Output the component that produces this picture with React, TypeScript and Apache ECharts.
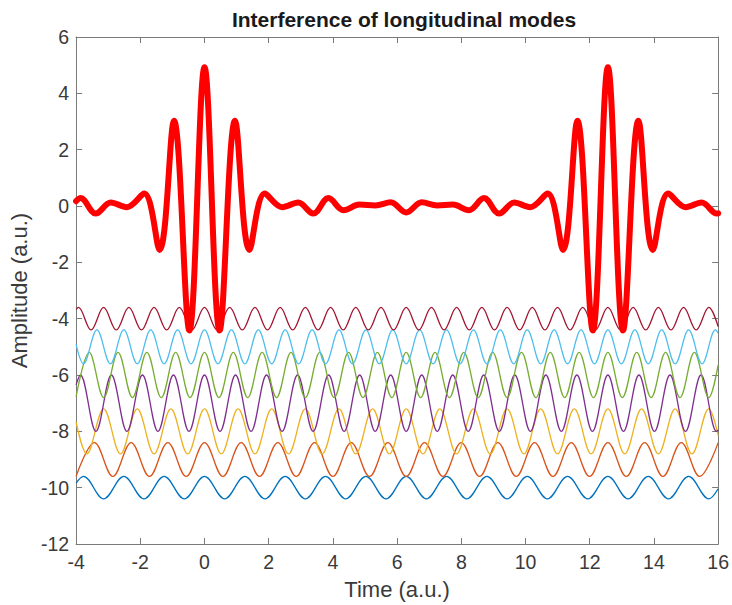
import React, { useEffect, useRef } from "react";
import * as echarts from "echarts";

const FONT = "'Liberation Sans', Arial, Helvetica, sans-serif";

const titleText = "Interference of longitudinal modes";
const xName = "Time (a.u.)";
const yName = "Amplitude (a.u.)";

const modeColors = ["#0072BD", "#D95319", "#EDB120", "#7E2F8E", "#77AC30", "#4DBEEE", "#A2142F"];
const sumColor = "#FF0000";

// Extrema (and end points) of each mode: [time, amplitude]
const mode1 = [[-4,-9.84],[-3.77,-9.6],[-3.142,-10.4],[-2.513,-9.6],[-1.885,-10.4],[-1.257,-9.6],[-0.628,-10.4],[0,-9.6],[0.628,-10.4],[1.257,-9.6],[1.885,-10.4],[2.513,-9.6],[3.142,-10.4],[3.77,-9.6],[4.398,-10.4],[5.027,-9.6],[5.655,-10.4],[6.283,-9.6],[6.912,-10.4],[7.54,-9.6],[8.168,-10.4],[8.796,-9.6],[9.425,-10.4],[10.053,-9.6],[10.681,-10.4],[11.31,-9.6],[11.938,-10.4],[12.566,-9.6],[13.195,-10.4],[13.823,-9.6],[14.451,-10.4],[15.08,-9.6],[15.708,-10.4],[16,-10.04]];

const mode2 = [[-4,-9.6],[-3.427,-8.4],[-2.856,-9.6],[-2.285,-8.4],[-1.714,-9.6],[-1.142,-8.4],[-0.571,-9.6],[0,-8.4],[0.571,-9.6],[1.142,-8.4],[1.714,-9.6],[2.285,-8.4],[2.856,-9.6],[3.427,-8.4],[3.998,-9.6],[4.57,-8.4],[5.141,-9.6],[5.712,-8.4],[6.283,-9.6],[6.854,-8.4],[7.426,-9.6],[7.997,-8.4],[8.568,-9.6],[9.139,-8.4],[9.71,-9.6],[10.282,-8.4],[10.853,-9.6],[11.424,-8.4],[11.995,-9.6],[12.566,-8.4],[13.138,-9.6],[13.709,-8.4],[14.28,-9.6],[14.851,-8.4],[15.422,-9.6],[16,-8.4]];

const mode3 = [[-4,-7.66],[-3.665,-8.8],[-3.142,-7.2],[-2.618,-8.8],[-2.094,-7.2],[-1.571,-8.8],[-1.047,-7.2],[-0.524,-8.8],[0,-7.2],[0.524,-8.8],[1.047,-7.2],[1.571,-8.8],[2.094,-7.2],[2.618,-8.8],[3.142,-7.2],[3.665,-8.8],[4.189,-7.2],[4.712,-8.8],[5.236,-7.2],[5.76,-8.8],[6.283,-7.2],[6.807,-8.8],[7.33,-7.2],[7.854,-8.8],[8.378,-7.2],[8.901,-8.8],[9.425,-7.2],[9.948,-8.8],[10.472,-7.2],[10.996,-8.8],[11.519,-7.2],[12.043,-8.8],[12.566,-7.2],[13.09,-8.8],[13.614,-7.2],[14.137,-8.8],[14.661,-7.2],[15.184,-8.8],[15.708,-7.2],[16,-8.14]];

const mode4 = [[-4,-6.35],[-3.867,-6],[-3.383,-8],[-2.9,-6],[-2.417,-8],[-1.933,-6],[-1.45,-8],[-0.967,-6],[-0.483,-8],[0,-6],[0.483,-8],[0.967,-6],[1.45,-8],[1.933,-6],[2.417,-8],[2.9,-6],[3.383,-8],[3.867,-6],[4.35,-8],[4.833,-6],[5.317,-8],[5.8,-6],[6.283,-8],[6.767,-6],[7.25,-8],[7.733,-6],[8.216,-8],[8.7,-6],[9.183,-8],[9.666,-6],[10.15,-8],[10.633,-6],[11.116,-8],[11.6,-6],[12.083,-8],[12.566,-6],[13.05,-8],[13.533,-6],[14.016,-8],[14.5,-6],[14.983,-8],[15.466,-6],[15.95,-8],[16,-7.95]];

const mode5 = [[-4,-6.77],[-3.59,-5.2],[-3.142,-6.8],[-2.693,-5.2],[-2.244,-6.8],[-1.795,-5.2],[-1.346,-6.8],[-0.898,-5.2],[-0.449,-6.8],[0,-5.2],[0.449,-6.8],[0.898,-5.2],[1.346,-6.8],[1.795,-5.2],[2.244,-6.8],[2.693,-5.2],[3.142,-6.8],[3.59,-5.2],[4.039,-6.8],[4.488,-5.2],[4.937,-6.8],[5.386,-5.2],[5.834,-6.8],[6.283,-5.2],[6.732,-6.8],[7.181,-5.2],[7.63,-6.8],[8.078,-5.2],[8.527,-6.8],[8.976,-5.2],[9.425,-6.8],[9.874,-5.2],[10.322,-6.8],[10.771,-5.2],[11.22,-6.8],[11.669,-5.2],[12.118,-6.8],[12.566,-5.2],[13.015,-6.8],[13.464,-5.2],[13.913,-6.8],[14.362,-5.2],[14.81,-6.8],[15.259,-5.2],[15.708,-6.8],[16,-5.64]];

const mode6 = [[-4,-4.91],[-3.77,-5.6],[-3.351,-4.4],[-2.932,-5.6],[-2.513,-4.4],[-2.094,-5.6],[-1.676,-4.4],[-1.257,-5.6],[-0.838,-4.4],[-0.419,-5.6],[0,-4.4],[0.419,-5.6],[0.838,-4.4],[1.257,-5.6],[1.676,-4.4],[2.094,-5.6],[2.513,-4.4],[2.932,-5.6],[3.351,-4.4],[3.77,-5.6],[4.189,-4.4],[4.608,-5.6],[5.027,-4.4],[5.445,-5.6],[5.864,-4.4],[6.283,-5.6],[6.702,-4.4],[7.121,-5.6],[7.54,-4.4],[7.959,-5.6],[8.378,-4.4],[8.796,-5.6],[9.215,-4.4],[9.634,-5.6],[10.053,-4.4],[10.472,-5.6],[10.891,-4.4],[11.31,-5.6],[11.729,-4.4],[12.147,-5.6],[12.566,-4.4],[12.985,-5.6],[13.404,-4.4],[13.823,-5.6],[14.242,-4.4],[14.661,-5.6],[15.08,-4.4],[15.499,-5.6],[15.917,-4.4],[16,-4.51]];

const mode7 = [[-4,-3.67],[-3.927,-3.6],[-3.534,-4.4],[-3.142,-3.6],[-2.749,-4.4],[-2.356,-3.6],[-1.963,-4.4],[-1.571,-3.6],[-1.178,-4.4],[-0.785,-3.6],[-0.393,-4.4],[0,-3.6],[0.393,-4.4],[0.785,-3.6],[1.178,-4.4],[1.571,-3.6],[1.963,-4.4],[2.356,-3.6],[2.749,-4.4],[3.142,-3.6],[3.534,-4.4],[3.927,-3.6],[4.32,-4.4],[4.712,-3.6],[5.105,-4.4],[5.498,-3.6],[5.89,-4.4],[6.283,-3.6],[6.676,-4.4],[7.069,-3.6],[7.461,-4.4],[7.854,-3.6],[8.247,-4.4],[8.639,-3.6],[9.032,-4.4],[9.425,-3.6],[9.817,-4.4],[10.21,-3.6],[10.603,-4.4],[10.996,-3.6],[11.388,-4.4],[11.781,-3.6],[12.174,-4.4],[12.566,-3.6],[12.959,-4.4],[13.352,-3.6],[13.744,-4.4],[14.137,-3.6],[14.53,-4.4],[14.923,-3.6],[15.315,-4.4],[15.708,-3.6],[16,-4.28]];

// Sum of the modes (thick red curve), extrema
const sumWave = [[-4,0.17],[-3.86,0.28],[-3.39,-0.27],[-2.92,0.12],[-2.42,-0.04],[-1.88,0.44],[-1.4,-1.56],[-0.95,3.03],[-0.47,-4.42],[0,4.93],[0.47,-4.42],[0.95,3.03],[1.4,-1.56],[1.88,0.44],[2.42,-0.04],[2.92,0.12],[3.39,-0.27],[3.86,0.28],[4.33,-0.15],[4.83,0.05],[5.32,0.02],[5.8,0.13],[6.283,-0.23],[6.766,0.13],[7.246,0.02],[7.736,0.05],[8.236,-0.15],[8.706,0.28],[9.176,-0.27],[9.646,0.12],[10.146,-0.04],[10.686,0.44],[11.166,-1.56],[11.616,3.03],[12.096,-4.42],[12.566,4.93],[13.036,-4.42],[13.516,3.03],[13.966,-1.56],[14.446,0.44],[14.986,-0.04],[15.486,0.12],[15.956,-0.27],[16,-0.26]];

const modes = [mode1, mode2, mode3, mode4, mode5, mode6, mode7];

const X_MIN = -4, X_MAX = 16, X_STEP = 2;
const Y_MIN = -12, Y_MAX = 6, Y_STEP = 2;

export default function App() {
  const ref = useRef<HTMLDivElement>(null);
  useEffect(() => {
    const chart = echarts.init(ref.current!, null, { renderer: "svg" });
    const axisColor = "#7a7a7a";
    const textColor = "#3a3a3a";
    const lineAxis = { show: true, onZero: false, lineStyle: { color: axisColor, width: 1 } };
    const tick = { show: true, inside: true, length: 6, lineStyle: { color: axisColor, width: 1 } };
    const smooth = 0.363;
    const series: any[] = modes.map((d, i) => ({
      type: "line",
      data: d,
      showSymbol: false,
      smooth,
      silent: true,
      lineStyle: { color: modeColors[i], width: 1.3 },
      itemStyle: { color: modeColors[i] },
    }));
    series.push({
      type: "line",
      data: sumWave,
      showSymbol: false,
      smooth,
      silent: true,
      lineStyle: { color: sumColor, width: 6, cap: "round", join: "round" },
      itemStyle: { color: sumColor },
      z: 5,
    });
    chart.setOption({
      animation: false,
      backgroundColor: "#ffffff",
      textStyle: { fontFamily: FONT },
      title: {
        text: titleText,
        left: 399,
        top: 4,
        textAlign: "center",
        textStyle: { fontFamily: FONT, fontSize: 21, fontWeight: "bold", color: "#1a1a1a" },
      },
      grid: { left: 76, right: 12, top: 37, bottom: 60, containLabel: false },
      xAxis: [
        {
          type: "value", min: X_MIN, max: X_MAX, interval: X_STEP, position: "bottom",
          axisLine: lineAxis, axisTick: tick, splitLine: { show: false },
          axisLabel: { color: textColor, fontSize: 19.5, margin: 8, fontFamily: FONT },
          name: xName, nameLocation: "middle", nameGap: 34,
          nameTextStyle: { color: textColor, fontSize: 22, fontFamily: FONT },
        },
        {
          type: "value", min: X_MIN, max: X_MAX, interval: X_STEP, position: "top",
          axisLine: lineAxis, axisTick: tick, splitLine: { show: false },
          axisLabel: { show: false },
        },
      ],
      yAxis: [
        {
          type: "value", min: Y_MIN, max: Y_MAX, interval: Y_STEP, position: "left",
          axisLine: lineAxis, axisTick: tick, splitLine: { show: false },
          axisLabel: { color: textColor, fontSize: 19.5, margin: 7, fontFamily: FONT },
          name: yName, nameLocation: "middle", nameGap: 43,
          nameTextStyle: { color: textColor, fontSize: 22, fontFamily: FONT },
        },
        {
          type: "value", min: Y_MIN, max: Y_MAX, interval: Y_STEP, position: "right",
          axisLine: lineAxis, axisTick: tick, splitLine: { show: false },
          axisLabel: { show: false },
        },
      ],
      series,
    });
    return () => chart.dispose();
  }, []);
  return (
    <div
      ref={ref}
      style={{ position: "fixed", left: 0, top: 0, width: 732, height: 605, background: "#fff" }}
    />
  );
}
